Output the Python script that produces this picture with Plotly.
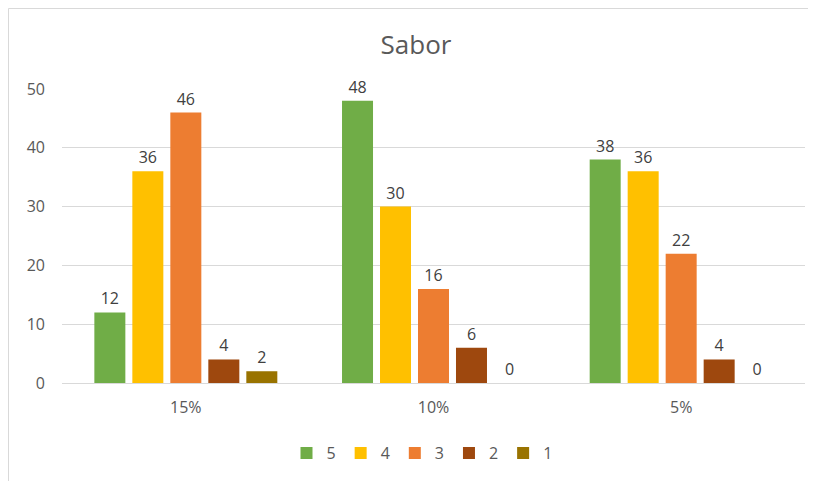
import plotly.graph_objects as go

categories = ["15%", "10%", "5%"]
series_names = ["5", "4", "3", "2", "1"]
values = {
    "5": [12, 48, 38],
    "4": [36, 30, 36],
    "3": [46, 16, 22],
    "2": [4, 6, 4],
    "1": [2, 0, 0],
}
colors = {"5": "#70AD47", "4": "#FFC000", "3": "#ED7D31", "2": "#9E480E", "1": "#997300"}
y_ticks = [0, 10, 20, 30, 40, 50]

FONT = "Open Sans, sans-serif"

fig = go.Figure()
for s in series_names:
    fig.add_trace(go.Bar(
        name=s, x=categories, y=values[s],
        marker=dict(color=colors[s], line=dict(width=0)),
        text=[str(v) for v in values[s]], textposition="outside",
        constraintext="none",
        textfont=dict(family=FONT, size=16, color="#404040"),
        cliponaxis=False,
    ))

W, H = 816, 481
L, R, T, B = 54, 19, 81, 106
pw = W - L - R
ph = H - T - B

def px_x(p):
    return (p - L) / pw

def px_y(p):
    return (H - B - p) / ph

fig.update_layout(
    width=W, height=H,
    margin=dict(l=L, r=R, t=T, b=B, pad=0, autoexpand=False),
    paper_bgcolor="white", plot_bgcolor="white",
    barmode="group", bargap=0.233, bargroupgap=0.184,
    title=dict(text="Sabor", x=0.5, xref="container", xanchor="center",
               y=1 - 37 / H, yanchor="middle",
               font=dict(family=FONT, size=26, color="#595959")),
    font=dict(family=FONT, size=15, color="#595959"),
    xaxis=dict(showgrid=False, showline=True, linecolor="#D9D9D9", linewidth=1,
               ticks="", ticklabelstandoff=10,
               tickfont=dict(size=16, color="#595959")),
    yaxis=dict(range=[0, 50], tickvals=y_ticks, showgrid=True, gridcolor="#D9D9D9",
               gridwidth=1, zeroline=False, showline=False, ticks="",
               ticklabelstandoff=16, tickfont=dict(size=16, color="#595959")),
    legend=dict(orientation="h", x=px_x(414), xanchor="center",
                y=px_y(445), yanchor="middle",
                font=dict(size=16, color="#595959"), traceorder="normal",
                itemwidth=30),
    shapes=[dict(type="rect", xref="paper", yref="paper",
                 x0=px_x(0.5), x1=px_x(815.5), y0=px_y(480.5), y1=px_y(0.5),
                 line=dict(color="#D9D9D9", width=1), layer="below")],
)

fig.write_html("out.html")
